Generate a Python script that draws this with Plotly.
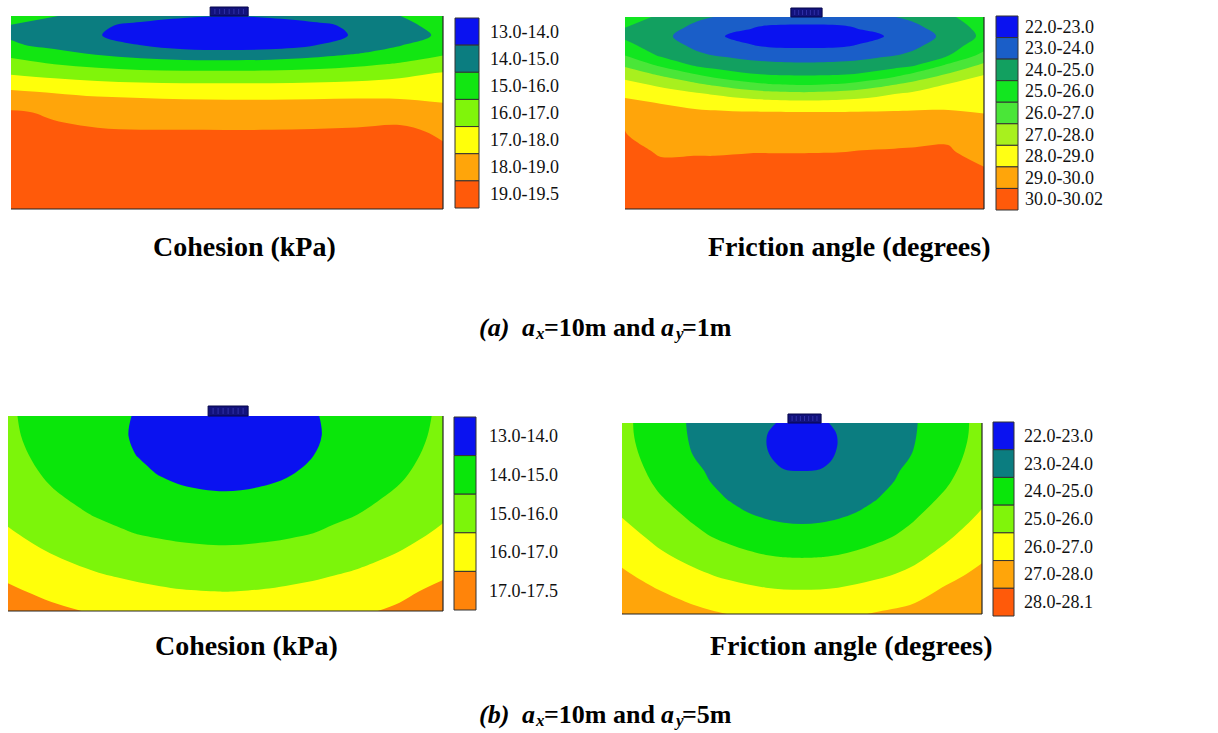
import plotly.graph_objects as go

W, H = 1218, 733

# ---------------------------------------------------------------------------
# Field values on (depth fraction, width fraction) grids for each section
# ---------------------------------------------------------------------------

# (a) a_x = 10 m, a_y = 1 m : cohesion (kPa)
coh_a_x = [0.0, 0.1, 0.2, 0.3, 0.4, 0.5, 0.6, 0.7, 0.8, 0.9, 1.0]
coh_a_depth = [0.0, 0.05, 0.1, 0.15, 0.2, 0.25, 0.3, 0.4, 0.5, 0.6, 0.8, 1.0]
coh_a_z = [
    [15.30, 15.03, 14.70, 14.40, 14.15, 14.02, 14.15, 14.40, 14.70, 14.99, 15.50],
    [14.97, 14.60, 14.15, 13.75, 13.40, 13.30, 13.40, 13.75, 14.20, 14.75, 15.30],
    [14.88, 14.45, 14.05, 13.60, 13.25, 13.10, 13.25, 13.60, 14.10, 14.60, 15.15],
    [15.12, 14.75, 14.40, 13.98, 13.60, 13.50, 13.60, 13.95, 14.40, 14.95, 15.50],
    [15.80, 15.35, 14.97, 14.70, 14.50, 14.45, 14.50, 14.75, 15.05, 15.45, 15.95],
    [16.35, 16.00, 15.70, 15.50, 15.40, 15.40, 15.42, 15.55, 15.80, 16.10, 16.50],
    [16.95, 16.70, 16.50, 16.35, 16.30, 16.30, 16.30, 16.40, 16.55, 16.80, 17.10],
    [18.20, 18.00, 17.85, 17.80, 17.75, 17.75, 17.75, 17.75, 17.75, 17.70, 17.70],
    [19.10, 18.90, 18.70, 18.60, 18.55, 18.50, 18.50, 18.55, 18.65, 18.72, 18.30],
    [19.30, 19.15, 19.08, 19.05, 19.05, 19.05, 19.06, 19.08, 19.10, 19.15, 18.90],
    [19.40, 19.35, 19.35, 19.35, 19.35, 19.35, 19.35, 19.35, 19.35, 19.35, 19.30],
    [19.45, 19.45, 19.45, 19.45, 19.45, 19.45, 19.45, 19.45, 19.45, 19.45, 19.40],
]
coh_a_levels = [14, 15, 16, 17, 18, 19]
coh_a_labels = ["13.0-14.0", "14.0-15.0", "15.0-16.0", "16.0-17.0",
                "17.0-18.0", "18.0-19.0", "19.0-19.5"]
coh_a_colors = ["#0a12f0", "#0b7d80", "#12e612", "#80f50a",
                "#ffff0a", "#ffa50a", "#ff5a0a"]

# (a) a_x = 10 m, a_y = 1 m : friction angle (degrees)
fri_a_x = [0.0, 0.1, 0.2, 0.25, 0.3, 0.35, 0.4, 0.5, 0.6, 0.65, 0.7, 0.75, 0.8, 0.9, 1.0]
fri_a_depth = [0.0, 0.05, 0.1, 0.15, 0.2, 0.25, 0.3, 0.35, 0.4, 0.45,
               0.5, 0.6, 0.7, 0.8, 0.9, 1.0]
fri_a_z = [
    [25.40, 24.86, 24.21, 23.98, 23.83, 23.68, 23.58, 23.50, 23.58, 23.68, 23.83, 23.98, 24.21, 24.86, 25.50],
    [25.02, 24.58, 23.76, 23.55, 23.25, 23.08, 22.90, 22.85, 22.90, 23.08, 23.25, 23.55, 23.76, 24.58, 25.30],
    [24.86, 24.30, 23.40, 23.20, 22.85, 22.75, 22.55, 22.45, 22.55, 22.75, 22.85, 23.20, 23.40, 24.30, 25.20],
    [25.23, 24.58, 23.76, 23.55, 23.25, 23.05, 22.90, 22.85, 22.90, 23.05, 23.25, 23.55, 23.76, 24.58, 25.55],
    [25.99, 24.86, 24.21, 23.97, 23.83, 23.68, 23.58, 23.50, 23.58, 23.68, 23.83, 23.97, 24.21, 24.95, 26.33],
    [26.83, 25.81, 24.82, 24.63, 24.46, 24.33, 24.24, 24.17, 24.24, 24.33, 24.46, 24.63, 24.82, 26.14, 27.17],
    [27.67, 26.86, 26.02, 25.58, 25.29, 25.09, 24.99, 24.92, 24.99, 25.09, 25.31, 25.67, 26.18, 27.11, 27.99],
    [28.30, 27.80, 27.14, 26.82, 26.51, 26.24, 26.03, 25.90, 26.05, 26.29, 26.59, 26.94, 27.29, 28.02, 28.25],
    [28.80, 28.44, 28.11, 27.89, 27.67, 27.49, 27.35, 27.23, 27.37, 27.53, 27.74, 27.99, 28.16, 28.39, 28.50],
    [29.25, 28.99, 28.79, 28.69, 28.58, 28.48, 28.41, 28.33, 28.40, 28.46, 28.54, 28.63, 28.70, 28.77, 28.75],
    [29.993, 29.18, 29.14, 29.12, 29.10, 29.09, 29.08, 29.07, 29.07, 29.08, 29.08, 29.10, 29.11, 29.11, 28.99],
    [30.010, 29.54, 29.53, 29.52, 29.52, 29.52, 29.52, 29.52, 29.53, 29.81, 29.91, 29.94, 29.96, 29.98, 29.36],
    [30.012, 29.996, 29.997, 29.997, 29.998, 29.999, 29.999, 29.999, 29.999, 30.010, 30.010, 30.010, 30.010, 30.010, 29.96],
    [30.014, 30.010, 30.010, 30.010, 30.010, 30.010, 30.010, 30.010, 30.010, 30.012, 30.012, 30.012, 30.012, 30.012, 30.010],
    [30.016, 30.015, 30.015, 30.015, 30.015, 30.015, 30.015, 30.015, 30.015, 30.015, 30.015, 30.015, 30.015, 30.015, 30.015],
    [30.020, 30.020, 30.020, 30.020, 30.020, 30.020, 30.020, 30.020, 30.020, 30.020, 30.020, 30.020, 30.020, 30.020, 30.020],
]
fri_a_levels = [23, 24, 25, 26, 27, 28, 29, 30]
fri_a_labels = ["22.0-23.0", "23.0-24.0", "24.0-25.0", "25.0-26.0", "26.0-27.0",
                "27.0-28.0", "28.0-29.0", "29.0-30.0", "30.0-30.02"]
fri_a_colors = ["#0a12f0", "#1a5ec8", "#12a060", "#12e620", "#4ae638",
                "#a8f01e", "#ffff14", "#ffa50a", "#ff5a0a"]

# (b) a_x = 10 m, a_y = 5 m : cohesion (kPa)
coh_b_x = [0.0, 0.1, 0.2, 0.25, 0.3, 0.35, 0.4, 0.5, 0.6, 0.65, 0.7, 0.75, 0.8, 0.9, 1.0]
coh_b_depth = [0.0, 0.1, 0.2, 0.3, 0.4, 0.5, 0.6, 0.7, 0.8, 0.9, 1.0]
coh_b_z = [
    [15.10, 14.64, 14.21, 14.085, 13.96, 13.60, 13.40, 13.10, 13.42, 13.61, 13.96, 14.09, 14.22, 14.66, 15.12],
    [15.14, 14.67, 14.25, 14.14, 13.88, 13.66, 13.45, 13.05, 13.46, 13.67, 13.89, 14.15, 14.26, 14.69, 15.17],
    [15.23, 14.75, 14.35, 14.22, 13.97, 13.83, 13.65, 13.30, 13.66, 13.84, 13.98, 14.23, 14.37, 14.77, 15.26],
    [15.37, 14.88, 14.51, 14.34, 14.18, 13.97, 13.82, 13.70, 13.83, 13.98, 14.19, 14.36, 14.53, 14.90, 15.41],
    [15.57, 15.07, 14.71, 14.56, 14.43, 14.32, 14.15, 14.05, 14.16, 14.33, 14.44, 14.58, 14.73, 15.10, 15.61],
    [15.81, 15.34, 14.94, 14.81, 14.69, 14.60, 14.53, 14.47, 14.54, 14.61, 14.70, 14.84, 14.97, 15.38, 15.86],
    [16.09, 15.64, 15.27, 15.10, 14.97, 14.89, 14.83, 14.78, 14.84, 14.90, 14.99, 15.13, 15.30, 15.68, 16.14],
    [16.43, 15.97, 15.63, 15.48, 15.36, 15.26, 15.19, 15.13, 15.20, 15.28, 15.38, 15.51, 15.66, 16.02, 16.48],
    [16.80, 16.37, 16.01, 15.88, 15.77, 15.68, 15.61, 15.57, 15.62, 15.70, 15.79, 15.92, 16.05, 16.42, 16.86],
    [17.15, 16.79, 16.46, 16.32, 16.21, 16.12, 16.05, 15.99, 16.07, 16.15, 16.24, 16.37, 16.50, 16.84, 17.20],
    [17.47, 17.18, 16.92, 16.80, 16.69, 16.61, 16.55, 16.50, 16.57, 16.64, 16.72, 16.80, 16.88, 17.12, 17.50],
]
coh_b_levels = [14, 15, 16, 17]
coh_b_labels = ["13.0-14.0", "14.0-15.0", "15.0-16.0", "16.0-17.0", "17.0-17.5"]
coh_b_colors = ["#0a12f0", "#0ae60a", "#7cf50a", "#ffff0a", "#ff840a"]

# (b) a_x = 10 m, a_y = 5 m : friction angle (degrees)
fri_b_x = [0.0, 0.1, 0.2, 0.25, 0.3, 0.35, 0.4, 0.45, 0.5, 0.55, 0.6, 0.65, 0.7, 0.75, 0.8, 0.9, 1.0]
fri_b_depth = [0.0, 0.05, 0.1, 0.15, 0.2, 0.25, 0.3, 0.4, 0.5, 0.6, 0.7, 0.8, 0.9, 1.0]
fri_b_z = [
    [25.21, 24.53, 23.85, 23.70, 23.50, 23.38, 23.25, 22.80, 22.50, 22.80, 23.20, 23.38, 23.50, 23.70, 23.85, 24.55, 25.25],
    [25.22, 24.54, 23.87, 23.68, 23.45, 23.30, 23.10, 22.25, 22.15, 22.25, 23.10, 23.30, 23.45, 23.68, 23.87, 24.56, 25.26],
    [25.25, 24.57, 23.90, 23.68, 23.45, 23.27, 23.02, 22.15, 22.05, 22.15, 23.02, 23.27, 23.45, 23.68, 23.90, 24.59, 25.29],
    [25.30, 24.62, 23.95, 23.72, 23.50, 23.30, 23.10, 22.30, 22.20, 22.30, 23.10, 23.30, 23.50, 23.72, 23.95, 24.64, 25.34],
    [25.37, 24.68, 24.04, 23.78, 23.55, 23.40, 23.25, 22.70, 22.60, 22.70, 23.20, 23.40, 23.55, 23.78, 24.04, 24.70, 25.41],
    [25.45, 24.76, 24.18, 23.86, 23.62, 23.50, 23.40, 23.06, 22.99, 23.06, 23.38, 23.50, 23.62, 23.86, 24.18, 24.78, 25.50],
    [25.55, 24.85, 24.32, 23.94, 23.72, 23.62, 23.55, 23.23, 23.17, 23.23, 23.54, 23.62, 23.72, 23.94, 24.32, 24.88, 25.62],
    [25.77, 25.10, 24.60, 24.26, 23.95, 23.80, 23.78, 23.58, 23.53, 23.58, 23.78, 23.80, 23.95, 24.26, 24.60, 25.15, 25.85],
    [26.01, 25.45, 24.88, 24.63, 24.38, 24.09, 23.99, 23.88, 23.84, 23.88, 23.99, 24.09, 24.38, 24.63, 24.88, 25.52, 26.16],
    [26.39, 25.79, 25.26, 25.01, 24.82, 24.65, 24.52, 24.43, 24.40, 24.43, 24.52, 24.65, 24.82, 25.01, 25.26, 25.88, 26.52],
    [26.77, 26.19, 25.72, 25.51, 25.32, 25.17, 25.05, 24.98, 24.96, 24.98, 25.05, 25.17, 25.32, 25.51, 25.72, 26.30, 26.88],
    [27.17, 26.66, 26.21, 26.02, 25.87, 25.74, 25.64, 25.58, 25.56, 25.58, 25.64, 25.74, 25.87, 26.02, 26.21, 26.78, 27.23],
    [27.58, 27.13, 26.73, 26.56, 26.42, 26.31, 26.22, 26.17, 26.16, 26.17, 26.22, 26.33, 26.45, 26.58, 26.73, 27.22, 27.58],
    [28.02, 27.59, 27.24, 27.10, 26.98, 26.88, 26.80, 26.76, 26.74, 26.76, 26.80, 26.92, 27.05, 27.15, 27.24, 27.62, 27.93],
]
fri_b_levels = [23, 24, 25, 26, 27, 28]
fri_b_labels = ["22.0-23.0", "23.0-24.0", "24.0-25.0", "25.0-26.0",
                "26.0-27.0", "27.0-28.0", "28.0-28.1"]
fri_b_colors = ["#0a12f0", "#0b7d80", "#0ae60a", "#80f50a",
                "#ffff0a", "#ffa50a", "#ff5a0a"]

# ---------------------------------------------------------------------------
# Page layout (pixels): section box, footing, colour key
# ---------------------------------------------------------------------------
panels = [
    dict(xs=coh_a_x, ds=coh_a_depth, z=coh_a_z, levels=coh_a_levels,
         colors=coh_a_colors, labels=coh_a_labels,
         box=(11, 16, 443, 209), footing=(0.461, 0.549, 9),
         key=(455, 18, 479, 208), label_x=488),
    dict(xs=fri_a_x, ds=fri_a_depth, z=fri_a_z, levels=fri_a_levels,
         colors=fri_a_colors, labels=fri_a_labels,
         box=(625, 17, 984, 209), footing=(0.462, 0.549, 9),
         key=(996, 16, 1018, 210), label_x=1023),
    dict(xs=coh_b_x, ds=coh_b_depth, z=coh_b_z, levels=coh_b_levels,
         colors=coh_b_colors, labels=coh_b_labels,
         box=(8, 416, 443, 611), footing=(0.460, 0.552, 10),
         key=(454, 417, 476, 610), label_x=487),
    dict(xs=fri_b_x, ds=fri_b_depth, z=fri_b_z, levels=fri_b_levels,
         colors=fri_b_colors, labels=fri_b_labels,
         box=(622, 423, 982, 614), footing=(0.461, 0.553, 9),
         key=(993, 422, 1014, 616), label_x=1022),
]

titles = [
    ("Cohesion (kPa)", 151, 246),
    ("Friction angle (degrees)", 706, 246),
    ("Cohesion (kPa)", 153, 645),
    ("Friction angle (degrees)", 708, 645),
]
# caption pieces: (text, italic, subscript)
captions = [
    ([("(a)", True, False), ("\u00a0\u00a0", False, False), ("a", True, False),
      ("x", True, True), ("=10m and\u00a0", False, False), ("a", True, False),
      ("y", True, True), ("=1m", False, False)], 604, 327),
    ([("(b)", True, False), ("\u00a0\u00a0", False, False), ("a", True, False),
      ("x", True, True), ("=10m and\u00a0", False, False), ("a", True, False),
      ("y", True, True), ("=5m", False, False)], 604, 714),
]

SERIF = "Liberation Serif, Times New Roman, serif"
TITLE_SIZE = 28
CAP_SIZE = 26
SUB_SIZE = 17
SUB_DROP = 6

# advance widths (em) of the bold / bold-italic Times-metric glyphs used
ADV_B = {"=": 0.570, "0": 0.5, "1": 0.5, "5": 0.5, "m": 0.833, " ": 0.25,
         "\u00a0": 0.25, "a": 0.5, "n": 0.556, "d": 0.556}
ADV_BI = {"(": 0.333, ")": 0.333, "a": 0.5, "b": 0.5, "x": 0.5, "y": 0.444,
          "\u00a0": 0.25}


def fx(px):
    return px / W


def fy(py):
    return 1 - py / H


def stepped(colors):
    n = len(colors) - 1
    scale = []
    for j, c in enumerate(colors):
        scale.append([max(0.0, (j - 0.5) / n), c])
        scale.append([min(1.0, (j + 0.5) / n), c])
    return scale


def piece_width(text, italic, sub):
    table = ADV_BI if italic else ADV_B
    size = SUB_SIZE if sub else CAP_SIZE
    return sum(table.get(ch, 0.5) for ch in text) * size


fig = go.Figure()
shapes, annotations = [], []
layout_axes = {}

for i, p in enumerate(panels, start=1):
    xa = "x" if i == 1 else f"x{i}"
    ya = "y" if i == 1 else f"y{i}"
    fig.add_trace(go.Contour(
        x=p["xs"], y=p["ds"], z=p["z"],
        xaxis=xa, yaxis=ya,
        contours=dict(start=p["levels"][0], end=p["levels"][-1], size=1,
                      coloring="fill", showlines=False),
        colorscale=stepped(p["colors"]),
        line=dict(width=0, smoothing=1.0),
        showscale=False, hoverinfo="skip",
    ))
    l, t, r, b = p["box"]
    layout_axes["xaxis" if i == 1 else f"xaxis{i}"] = dict(
        domain=[fx(l), fx(r)], range=[0, 1], visible=False, anchor=ya)
    layout_axes["yaxis" if i == 1 else f"yaxis{i}"] = dict(
        domain=[fy(b), fy(t)], range=[1, 0], visible=False, anchor=xa)

    # right and bottom frame lines of the section
    for x0, y0, x1, y1 in [(0, 0, 1, 0), (1, 0, 1, 1)]:
        shapes.append(dict(type="line", xref=f"{xa} domain", yref=f"{ya} domain",
                           x0=x0, y0=y0, x1=x1, y1=y1,
                           line=dict(color="#222222", width=1.2)))

    # footing on the ground surface
    f0, f1, fh = p["footing"]
    shapes.append(dict(type="rect", xref=f"{xa} domain", yref=f"{ya} domain",
                       x0=f0, x1=f1, y0=1.0, y1=1.0 + fh / (b - t),
                       fillcolor="#12127c", line=dict(color="#05054a", width=1)))
    for k in range(1, 8):
        xx = f0 + (f1 - f0) * k / 8
        shapes.append(dict(type="line", xref=f"{xa} domain", yref=f"{ya} domain",
                           x0=xx, x1=xx, y0=1.0 + 2 / (b - t), y1=1.0 + (fh - 2) / (b - t),
                           line=dict(color="#3030a8", width=1)))

    # colour key with range labels
    kl, kt, kr, kb = p["key"]
    n = len(p["colors"])
    step = (kb - kt) / n
    for j, (c, lab) in enumerate(zip(p["colors"], p["labels"])):
        top = kt + j * step
        shapes.append(dict(type="rect", xref="paper", yref="paper",
                           x0=fx(kl), x1=fx(kr), y0=fy(top + step), y1=fy(top),
                           fillcolor=c, line=dict(color="#333333", width=1)))
        annotations.append(dict(text=lab, xref="paper", yref="paper",
                                x=fx(p["label_x"]), y=fy(top + step / 2),
                                xanchor="left", yanchor="middle", showarrow=False,
                                font=dict(family=SERIF, size=18, color="#111111")))

for text, px, py in titles:
    annotations.append(dict(text=text, xref="paper", yref="paper",
                            x=fx(px), y=fy(py), xanchor="left", yanchor="middle",
                            showarrow=False,
                            font=dict(family=SERIF, size=TITLE_SIZE, color="#000000",
                                      weight="bold")))

for pieces, cx, cy in captions:
    total = sum(piece_width(*pc) for pc in pieces)
    x = cx - total / 2
    for text, italic, sub in pieces:
        if text.strip("\u00a0"):
            annotations.append(dict(
                text=text, xref="paper", yref="paper",
                x=fx(x), y=fy(cy + (SUB_DROP if sub else 0)),
                xanchor="left", yanchor="middle", showarrow=False, borderpad=0,
                font=dict(family=SERIF, size=SUB_SIZE if sub else CAP_SIZE,
                          color="#000000", weight="bold",
                          style="italic" if italic else "normal")))
        x += piece_width(text, italic, sub)

fig.update_layout(
    width=W, height=H,
    margin=dict(l=0, r=0, t=0, b=0),
    paper_bgcolor="white", plot_bgcolor="white",
    showlegend=False,
    shapes=shapes, annotations=annotations,
    **layout_axes,
)

fig.write_html("out.html")
